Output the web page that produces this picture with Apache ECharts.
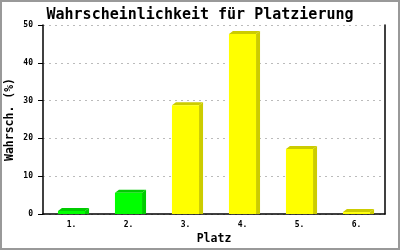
<!DOCTYPE html>
<html><head><meta charset="utf-8">
<script src="https://cdn.jsdelivr.net/npm/echarts@6/dist/echarts.min.js"></script>
<style>html,body{margin:0;padding:0;background:#fff}#c{width:400px;height:250px}</style>
</head><body><div id="c"></div>
<script>
const categories = ['1.', '2.', '3.', '4.', '5.', '6.'];
const values = [0.8, 5.6, 28.8, 47.6, 17.2, 0.5];
const yTicks = [0, 10, 20, 30, 40, 50];
const frontColors = ['#00ff00', '#00ff00', '#ffff00', '#ffff00', '#ffff00', '#ffff00'];
const sideColors = ['#00cc00', '#00cc00', '#cccc00', '#cccc00', '#cccc00', '#cccc00'];
const mono = '"DejaVu Sans Mono", "Liberation Mono", monospace';

const chart = echarts.init(document.getElementById('c'), null, {renderer: 'canvas'});
chart.setOption({
  animation: false,
  backgroundColor: '#fff',
  title: {
    text: 'Wahrscheinlichkeit für Platzierung',
    left: 'center', top: 3,
    textStyle: {fontFamily: mono, fontSize: 15, fontWeight: 'bold', color: '#000'}
  },
  grid: {left: 43, right: 15, top: 25, bottom: 36, containLabel: false, outerBoundsMode: 'none'},
  xAxis: {
    type: 'category', data: categories,
    name: 'Platz', nameLocation: 'middle', nameGap: 19, nameMoveOverlap: false,
    nameTextStyle: {fontFamily: mono, fontSize: 11.5, fontWeight: 'bold', color: '#000'},
    axisLine: {lineStyle: {color: '#000', width: 1.5}},
    axisTick: {show: false},
    axisLabel: {fontFamily: mono, fontSize: 8, fontWeight: 'bold', color: '#000', margin: 7},
    splitLine: {show: false}
  },
  yAxis: [{
    type: 'value', min: yTicks[0], max: yTicks[yTicks.length - 1], interval: 10,
    name: 'Wahrsch. (%)', nameLocation: 'middle', nameGap: 27, nameMoveOverlap: false,
    nameTextStyle: {fontFamily: mono, fontSize: 11.5, fontWeight: 'bold', color: '#000'},
    axisLine: {show: true, lineStyle: {color: '#000', width: 1.5}},
    axisTick: {show: true, length: 5, lineStyle: {color: '#000'}},
    axisLabel: {fontFamily: mono, fontSize: 8, fontWeight: 'bold', color: '#000', margin: 10},
    splitLine: {show: true, lineStyle: {color: '#bbb', type: [2, 4], width: 1}}
  }, {
    type: 'value', min: 0, max: 50, position: 'right',
    axisLine: {show: true, lineStyle: {color: '#000', width: 1.5}},
    axisTick: {show: false}, axisLabel: {show: false}, splitLine: {show: false}
  }],
  graphic: [{
    type: 'rect', shape: {x: 1, y: 1, width: 398, height: 248},
    style: {fill: null, stroke: '#999', lineWidth: 2}, silent: true, z: 100
  }],
  series: [{
    type: 'custom',
    clip: false,
    data: values.map((v, i) => [i, v]),
    encode: {x: 0, y: 1},
    renderItem: function (params, api) {
      const i = api.value(0), v = api.value(1);
      const top = api.coord([i, v]);
      const base = api.coord([i, 0]);
      const bw = api.size([1, 0])[0] * 0.475;
      const x0 = top[0] - bw / 2, x1 = top[0] + bw / 2;
      const dx = 4, dy = 3;
      return {
        type: 'group',
        children: [
          {type: 'polygon', shape: {points: [[x1, base[1]], [x1, top[1]], [x1 + dx, top[1] - dy], [x1 + dx, base[1]]]},
           style: {fill: sideColors[i]}},
          {type: 'polygon', shape: {points: [[x0, top[1]], [x0 + dx, top[1] - dy], [x1 + dx, top[1] - dy], [x1, top[1]]]},
           style: {fill: sideColors[i]}},
          {type: 'rect', shape: {x: x0, y: top[1], width: bw, height: base[1] - top[1]},
           style: {fill: frontColors[i]}}
        ]
      };
    }
  }]
});
</script></body></html>
